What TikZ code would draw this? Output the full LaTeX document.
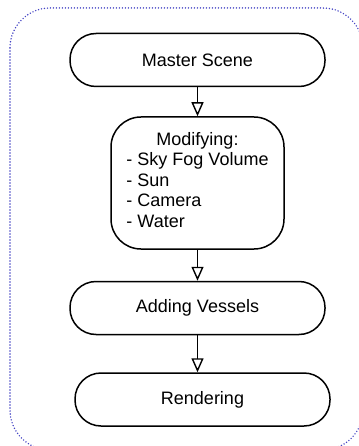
\documentclass[tikz,border=0pt]{standalone}
\usepackage{fontspec}
\setmainfont{Liberation Sans}
\usepackage{tikz}
\usetikzlibrary{arrows.meta,positioning}
\definecolor{frameblue}{RGB}{68,68,196}

\tikzset{
  stage/.style={draw, line width=1.5pt, rounded corners=26pt, minimum width=255pt,
    minimum height=53pt, font=\fontsize{18}{20.5}\selectfont, align=center},
  flow/.style={line width=1.5pt, -{Triangle[open,length=14pt,width=12pt,line width=1.4pt]}}
}

\begin{document}
\begin{tikzpicture}[x=1pt,y=-1pt]
  \useasboundingbox (0,0) rectangle (358,446);
  \draw[frameblue, line width=1.6pt, line cap=round, dash pattern=on 0pt off 3pt,
    rounded corners=40pt] (10,8) rectangle (363,450);

  \node[stage] (master) at (197.5,60) {Master Scene};
  \node[stage, below=29pt of master, minimum width=173pt, minimum height=132pt,
    rounded corners=30pt] (modify) {Modifying:\\[1pt]
    \begin{tabular}{@{}l@{}}
      - Sky Fog Volume\\ - Sun\\ - Camera\\ - Water
    \end{tabular}};
  \node[stage, below=31pt of modify] (vessels) {Adding Vessels};
  \node[stage, below=37pt of vessels, xshift=5pt] (render) {Rendering};

  \draw[flow] (master) -- (modify);
  \draw[flow] (modify) -- (vessels);
  \draw[flow] (vessels.south) -- (vessels.south |- render.north);
\end{tikzpicture}
\end{document}
